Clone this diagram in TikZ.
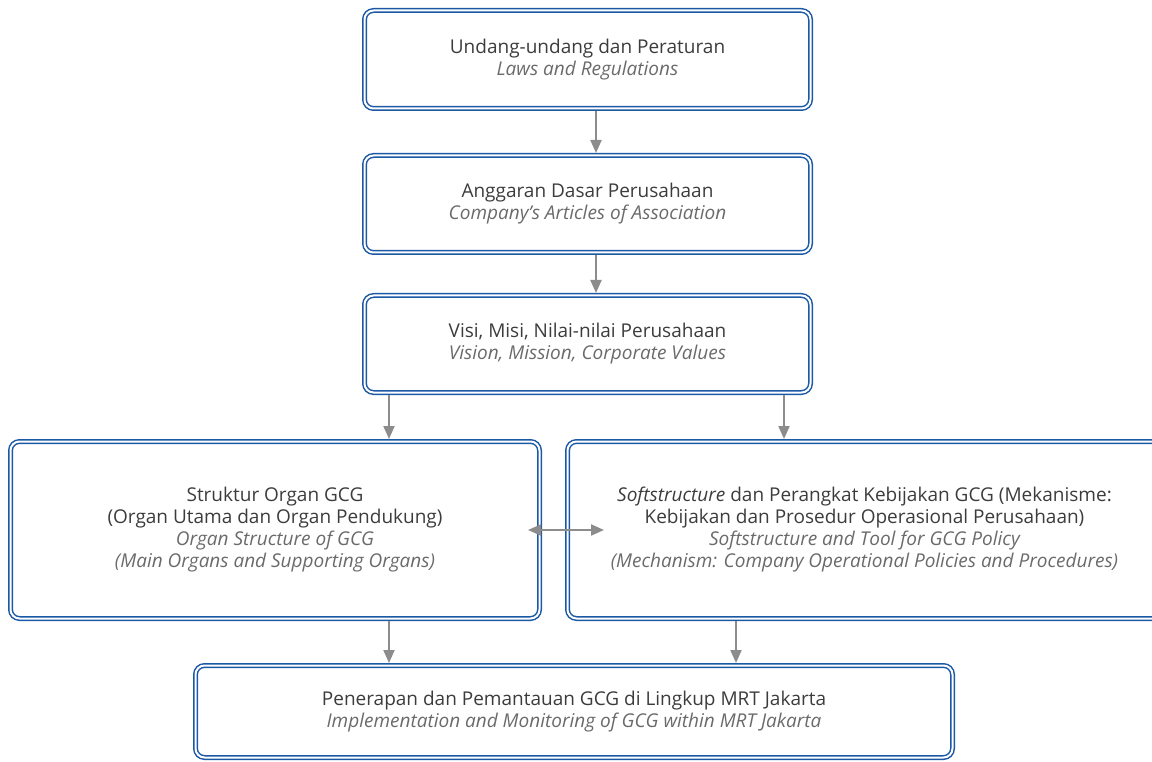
\documentclass[tikz,border=0pt]{standalone}
\usepackage{fontspec}
\setmainfont{Open Sans}
\usetikzlibrary{arrows.meta}
\definecolor{bl}{HTML}{1B58A5}
\definecolor{tx}{HTML}{3C3C3C}
\definecolor{ti}{HTML}{6A6A6A}
\definecolor{ar}{HTML}{8C8C8C}
\begin{document}
\begin{tikzpicture}[x=1pt,y=-1pt,
  box/.style={draw=bl, double=white, double distance=2pt, line width=1.5pt,
    rounded corners=9pt, outer sep=2.5pt, inner sep=0pt,
    align=center, text=tx, font=\fontsize{19}{22}\selectfont},
  arr/.style={draw=ar, line width=2pt, -{Triangle[width=11pt,length=13pt]}},
  arr2/.style={draw=ar, line width=2pt, {Triangle[width=11pt,length=13pt]}-{Triangle[width=11pt,length=13pt]}}]
\useasboundingbox (0,0) rectangle (1152,762);
\clip (0,0) rectangle (1152,762);
\newcommand{\en}[1]{\textcolor{ti}{\itshape #1}}
% boxes
\node[box, minimum width=446pt, minimum height=98pt] (b1) at (587.5,59.5)
  {Undang-undang dan Peraturan\\\en{Laws and Regulations}};
\node[box, minimum width=446pt, minimum height=97pt] (b2) at (587.5,204)
  {Anggaran Dasar Perusahaan\\\en{Company's Articles of Association}};
\node[box, minimum width=446pt, minimum height=97pt] (b3) at (587.5,344)
  {Visi, Misi, Nilai-nilai Perusahaan\\\en{Vision, Mission, Corporate Values}};
\node[box, minimum width=529pt, minimum height=177pt] (l) at (275,530)
  {Struktur Organ GCG\\(Organ Utama dan Organ Pendukung)\\\en{Organ Structure of GCG}\\\en{(Main Organs and Supporting Organs)}};
\node[box, minimum width=594pt, minimum height=177pt] (r) at (864.5,530)
  {\textit{Softstructure} dan Perangkat Kebijakan GCG (Mekanisme:\\Kebijakan dan Prosedur Operasional Perusahaan)\\\en{Softstructure and Tool for GCG Policy}\\\en{(Mechanism: Company Operational Policies and Procedures)}};
\node[box, minimum width=757pt, minimum height=92pt] (bt) at (574,711.5)
  {Penerapan dan Pemantauan GCG di Lingkup MRT Jakarta\\\en{Implementation and Monitoring of GCG within MRT Jakarta}};
% connectors
\coordinate (c0) at (596,0);
\coordinate (c1) at (389,0);
\coordinate (c2) at (784,0);
\coordinate (c3) at (736,0);
\coordinate (c4) at (0,530);
\draw[arr] (b1.south -| c0) -- (b2.north -| c0);
\draw[arr] (b2.south -| c0) -- (b3.north -| c0);
\draw[arr] (b3.south -| c1) -- (l.north -| c1);
\draw[arr] (b3.south -| c2) -- (r.north -| c2);
\draw[arr] (l.south -| c1) -- (bt.north -| c1);
\draw[arr] (r.south -| c3) -- (bt.north -| c3);
\draw[arr2] ([xshift=-14pt]l.east |- c4) -- ([xshift=39pt]r.west |- c4);
\end{tikzpicture}
\end{document}
